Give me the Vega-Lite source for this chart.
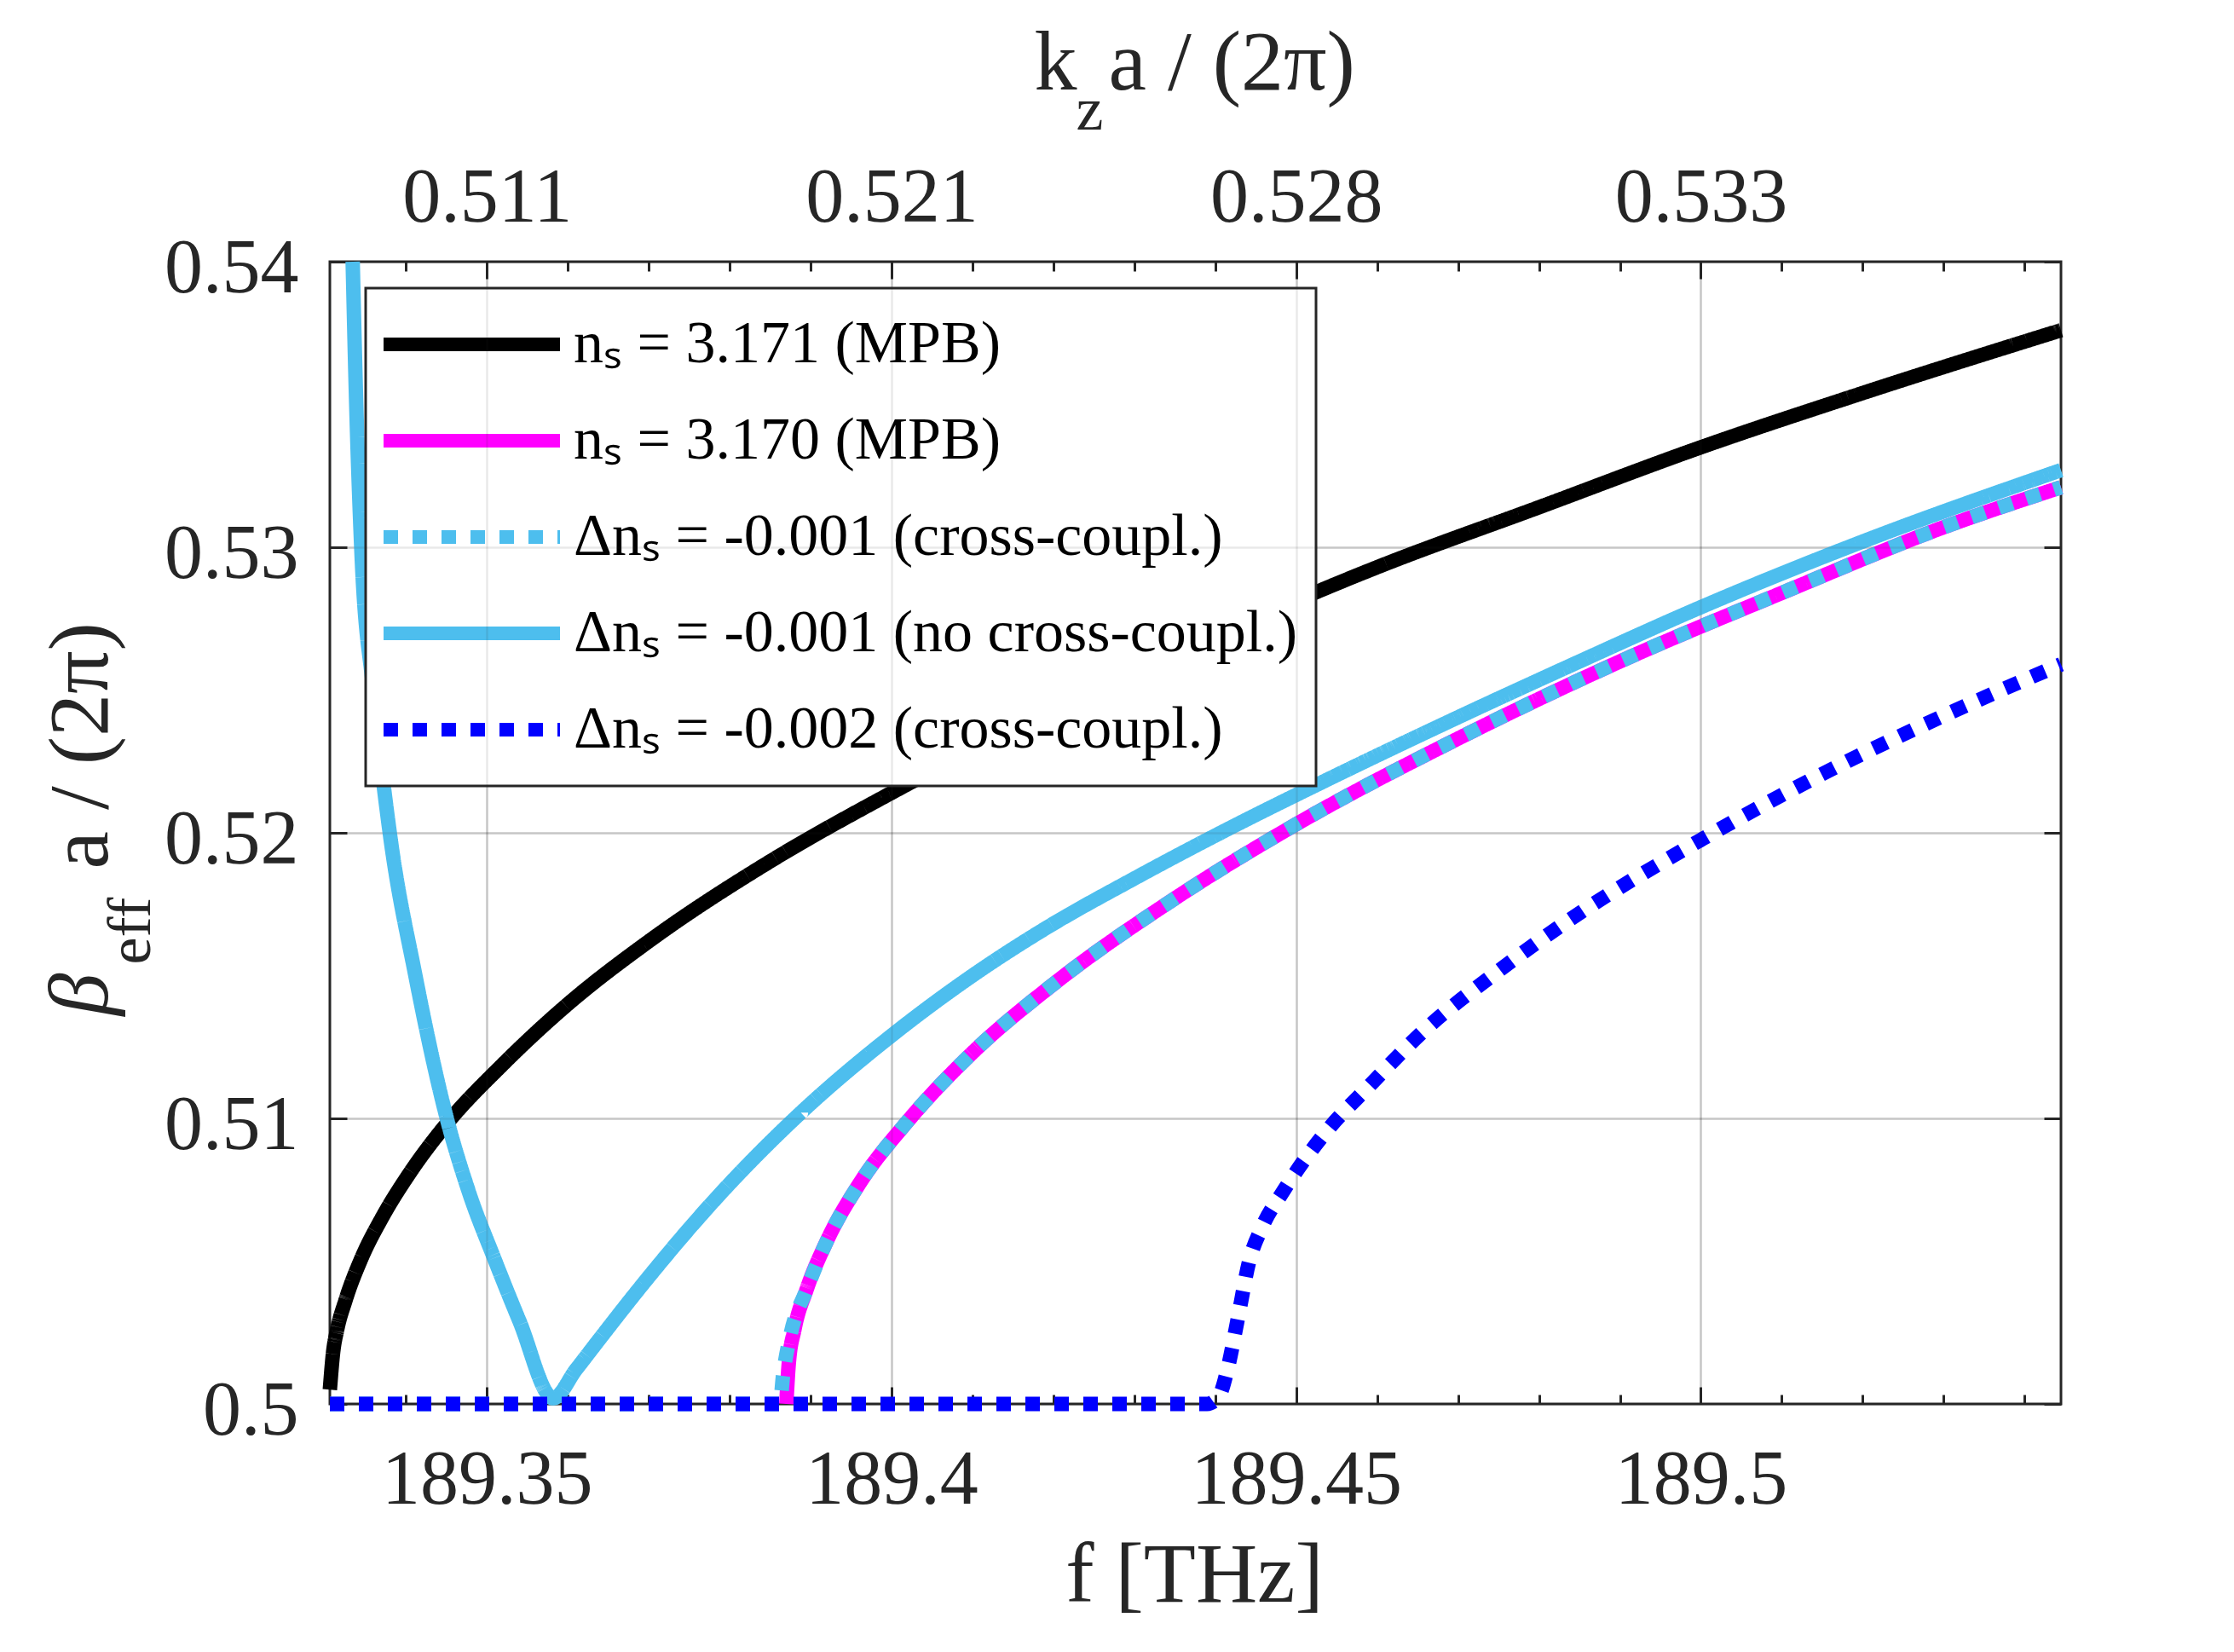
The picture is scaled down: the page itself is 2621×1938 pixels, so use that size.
{
  "$schema": "https://vega.github.io/schema/vega-lite/v6.json",
  "width": 2031,
  "height": 1340,
  "autosize": {"type": "none"},
  "padding": {"left": 387, "top": 307, "right": 203, "bottom": 291},
  "background": "white",
  "data": {
    "values": [
      {"series": "nₛ = 3.171 (MPB)", "freq": 189.3306, "beta": 0.5005},
      {"series": "nₛ = 3.171 (MPB)", "freq": 189.3310, "beta": 0.5018},
      {"series": "nₛ = 3.171 (MPB)", "freq": 189.3315, "beta": 0.5026},
      {"series": "nₛ = 3.171 (MPB)", "freq": 189.3325, "beta": 0.5036},
      {"series": "nₛ = 3.171 (MPB)", "freq": 189.3345, "beta": 0.5051},
      {"series": "nₛ = 3.171 (MPB)", "freq": 189.3370, "beta": 0.5065},
      {"series": "nₛ = 3.171 (MPB)", "freq": 189.3405, "beta": 0.5081},
      {"series": "nₛ = 3.171 (MPB)", "freq": 189.3450, "beta": 0.5098},
      {"series": "nₛ = 3.171 (MPB)", "freq": 189.3520, "beta": 0.5119},
      {"series": "nₛ = 3.171 (MPB)", "freq": 189.3600, "beta": 0.5140},
      {"series": "nₛ = 3.171 (MPB)", "freq": 189.3700, "beta": 0.5162},
      {"series": "nₛ = 3.171 (MPB)", "freq": 189.3850, "beta": 0.5190},
      {"series": "nₛ = 3.171 (MPB)", "freq": 189.4000, "beta": 0.5214},
      {"series": "nₛ = 3.171 (MPB)", "freq": 189.4200, "beta": 0.5243},
      {"series": "nₛ = 3.171 (MPB)", "freq": 189.4400, "beta": 0.5269},
      {"series": "nₛ = 3.171 (MPB)", "freq": 189.4600, "beta": 0.5293},
      {"series": "nₛ = 3.171 (MPB)", "freq": 189.4800, "beta": 0.5314},
      {"series": "nₛ = 3.171 (MPB)", "freq": 189.5000, "beta": 0.5335},
      {"series": "nₛ = 3.171 (MPB)", "freq": 189.5200, "beta": 0.5354},
      {"series": "nₛ = 3.171 (MPB)", "freq": 189.5445, "beta": 0.5376},

      {"series": "nₛ = 3.170 (MPB)", "freq": 189.3870, "beta": 0.5000},
      {"series": "nₛ = 3.170 (MPB)", "freq": 189.3873, "beta": 0.5014},
      {"series": "nₛ = 3.170 (MPB)", "freq": 189.3880, "beta": 0.5026},
      {"series": "nₛ = 3.170 (MPB)", "freq": 189.3895, "beta": 0.5040},
      {"series": "nₛ = 3.170 (MPB)", "freq": 189.3920, "beta": 0.5057},
      {"series": "nₛ = 3.170 (MPB)", "freq": 189.3960, "beta": 0.5077},
      {"series": "nₛ = 3.170 (MPB)", "freq": 189.4020, "beta": 0.5099},
      {"series": "nₛ = 3.170 (MPB)", "freq": 189.4100, "beta": 0.5123},
      {"series": "nₛ = 3.170 (MPB)", "freq": 189.4200, "beta": 0.5147},
      {"series": "nₛ = 3.170 (MPB)", "freq": 189.4350, "beta": 0.5177},
      {"series": "nₛ = 3.170 (MPB)", "freq": 189.4500, "beta": 0.5203},
      {"series": "nₛ = 3.170 (MPB)", "freq": 189.4700, "beta": 0.5233},
      {"series": "nₛ = 3.170 (MPB)", "freq": 189.4900, "beta": 0.5260},
      {"series": "nₛ = 3.170 (MPB)", "freq": 189.5100, "beta": 0.5284},
      {"series": "nₛ = 3.170 (MPB)", "freq": 189.5300, "beta": 0.5307},
      {"series": "nₛ = 3.170 (MPB)", "freq": 189.5445, "beta": 0.5321},

      {"series": "Δnₛ = -0.001 (cross-coupl.)", "freq": 189.3306, "beta": 0.5000},
      {"series": "Δnₛ = -0.001 (cross-coupl.)", "freq": 189.3862, "beta": 0.5000},
      {"series": "Δnₛ = -0.001 (cross-coupl.)", "freq": 189.3866, "beta": 0.5010},
      {"series": "Δnₛ = -0.001 (cross-coupl.)", "freq": 189.3875, "beta": 0.5024},
      {"series": "Δnₛ = -0.001 (cross-coupl.)", "freq": 189.3895, "beta": 0.5040},
      {"series": "Δnₛ = -0.001 (cross-coupl.)", "freq": 189.3920, "beta": 0.5057},
      {"series": "Δnₛ = -0.001 (cross-coupl.)", "freq": 189.3960, "beta": 0.5077},
      {"series": "Δnₛ = -0.001 (cross-coupl.)", "freq": 189.4020, "beta": 0.5099},
      {"series": "Δnₛ = -0.001 (cross-coupl.)", "freq": 189.4100, "beta": 0.5123},
      {"series": "Δnₛ = -0.001 (cross-coupl.)", "freq": 189.4200, "beta": 0.5147},
      {"series": "Δnₛ = -0.001 (cross-coupl.)", "freq": 189.4350, "beta": 0.5177},
      {"series": "Δnₛ = -0.001 (cross-coupl.)", "freq": 189.4500, "beta": 0.5203},
      {"series": "Δnₛ = -0.001 (cross-coupl.)", "freq": 189.4700, "beta": 0.5233},
      {"series": "Δnₛ = -0.001 (cross-coupl.)", "freq": 189.4900, "beta": 0.5260},
      {"series": "Δnₛ = -0.001 (cross-coupl.)", "freq": 189.5100, "beta": 0.5284},
      {"series": "Δnₛ = -0.001 (cross-coupl.)", "freq": 189.5300, "beta": 0.5307},
      {"series": "Δnₛ = -0.001 (cross-coupl.)", "freq": 189.5445, "beta": 0.5321},

      {"series": "Δnₛ = -0.001 (no cross-coupl.)", "freq": 189.33342, "beta": 0.5400},
      {"series": "Δnₛ = -0.001 (no cross-coupl.)", "freq": 189.33386, "beta": 0.5350},
      {"series": "Δnₛ = -0.001 (no cross-coupl.)", "freq": 189.33448, "beta": 0.5300},
      {"series": "Δnₛ = -0.001 (no cross-coupl.)", "freq": 189.33597, "beta": 0.5250},
      {"series": "Δnₛ = -0.001 (no cross-coupl.)", "freq": 189.33800, "beta": 0.5200},
      {"series": "Δnₛ = -0.001 (no cross-coupl.)", "freq": 189.34117, "beta": 0.5150},
      {"series": "Δnₛ = -0.001 (no cross-coupl.)", "freq": 189.34505, "beta": 0.5100},
      {"series": "Δnₛ = -0.001 (no cross-coupl.)", "freq": 189.34769, "beta": 0.5075},
      {"series": "Δnₛ = -0.001 (no cross-coupl.)", "freq": 189.35104, "beta": 0.5050},
      {"series": "Δnₛ = -0.001 (no cross-coupl.)", "freq": 189.35403, "beta": 0.5029},
      {"series": "Δnₛ = -0.001 (no cross-coupl.)", "freq": 189.35820, "beta": 0.5002},
      {"series": "Δnₛ = -0.001 (no cross-coupl.)", "freq": 189.3610, "beta": 0.5012},
      {"series": "Δnₛ = -0.001 (no cross-coupl.)", "freq": 189.3640, "beta": 0.5023},
      {"series": "Δnₛ = -0.001 (no cross-coupl.)", "freq": 189.3690, "beta": 0.5041},
      {"series": "Δnₛ = -0.001 (no cross-coupl.)", "freq": 189.3780, "beta": 0.5071},
      {"series": "Δnₛ = -0.001 (no cross-coupl.)", "freq": 189.3888, "beta": 0.5102},
      {"series": "Δnₛ = -0.001 (no cross-coupl.)", "freq": 189.4000, "beta": 0.5129},
      {"series": "Δnₛ = -0.001 (no cross-coupl.)", "freq": 189.4100, "beta": 0.5150},
      {"series": "Δnₛ = -0.001 (no cross-coupl.)", "freq": 189.4193, "beta": 0.5167},
      {"series": "Δnₛ = -0.001 (no cross-coupl.)", "freq": 189.4300, "beta": 0.5184},
      {"series": "Δnₛ = -0.001 (no cross-coupl.)", "freq": 189.4410, "beta": 0.52005},
      {"series": "Δnₛ = -0.001 (no cross-coupl.)", "freq": 189.4534, "beta": 0.5218},
      {"series": "Δnₛ = -0.001 (no cross-coupl.)", "freq": 189.4689, "beta": 0.5239},
      {"series": "Δnₛ = -0.001 (no cross-coupl.)", "freq": 189.4850, "beta": 0.5260},
      {"series": "Δnₛ = -0.001 (no cross-coupl.)", "freq": 189.5000, "beta": 0.5279},
      {"series": "Δnₛ = -0.001 (no cross-coupl.)", "freq": 189.5200, "beta": 0.5302},
      {"series": "Δnₛ = -0.001 (no cross-coupl.)", "freq": 189.5445, "beta": 0.5327},

      {"series": "Δnₛ = -0.002 (cross-coupl.)", "freq": 189.3306, "beta": 0.5000},
      {"series": "Δnₛ = -0.002 (cross-coupl.)", "freq": 189.4390, "beta": 0.5000},
      {"series": "Δnₛ = -0.002 (cross-coupl.)", "freq": 189.4405, "beta": 0.5003},
      {"series": "Δnₛ = -0.002 (cross-coupl.)", "freq": 189.4415, "beta": 0.5012},
      {"series": "Δnₛ = -0.002 (cross-coupl.)", "freq": 189.4428, "beta": 0.5030},
      {"series": "Δnₛ = -0.002 (cross-coupl.)", "freq": 189.4442, "beta": 0.5050},
      {"series": "Δnₛ = -0.002 (cross-coupl.)", "freq": 189.4458, "beta": 0.5062},
      {"series": "Δnₛ = -0.002 (cross-coupl.)", "freq": 189.4483, "beta": 0.5074},
      {"series": "Δnₛ = -0.002 (cross-coupl.)", "freq": 189.4536, "beta": 0.5095},
      {"series": "Δnₛ = -0.002 (cross-coupl.)", "freq": 189.4589, "beta": 0.5111},
      {"series": "Δnₛ = -0.002 (cross-coupl.)", "freq": 189.4659, "beta": 0.5131},
      {"series": "Δnₛ = -0.002 (cross-coupl.)", "freq": 189.4747, "beta": 0.5151},
      {"series": "Δnₛ = -0.002 (cross-coupl.)", "freq": 189.4835, "beta": 0.5169},
      {"series": "Δnₛ = -0.002 (cross-coupl.)", "freq": 189.5003, "beta": 0.5198},
      {"series": "Δnₛ = -0.002 (cross-coupl.)", "freq": 189.5188, "beta": 0.5226},
      {"series": "Δnₛ = -0.002 (cross-coupl.)", "freq": 189.5300, "beta": 0.5241},
      {"series": "Δnₛ = -0.002 (cross-coupl.)", "freq": 189.5445, "beta": 0.5259}
    ]
  },
  "resolve": {"axis": {"x": "independent", "y": "independent"}},
  "layer": [
    {
      "mark": {"type": "line", "strokeWidth": 17, "interpolate": "monotone"},
      "encoding": {
        "x": {
          "field": "freq",
          "type": "quantitative",
          "scale": {"domain": [189.3306, 189.5445], "nice": false, "zero": false},
          "axis": {
            "orient": "bottom",
            "values": [189.34, 189.35, 189.36, 189.37, 189.38, 189.39, 189.4, 189.41, 189.42, 189.43, 189.44, 189.45, 189.46, 189.47, 189.48, 189.49, 189.5, 189.51, 189.52, 189.53, 189.54],
            "tickSize": {"condition": {"test": "abs(datum.value*20 - round(datum.value*20)) < 0.001", "value": -20}, "value": -11},
            "labelExpr": "abs(datum.value*20 - round(datum.value*20)) < 0.001 ? format(datum.value, '.2~f') : ''",
            "labelPadding": 65,
            "grid": true,
            "gridColor": "#262626",
            "gridWidth": 2.5,
            "gridOpacity": {"condition": {"test": "abs(datum.value*20 - round(datum.value*20)) < 0.001", "value": 0.18}, "value": 0},
            "title": "f [THz]",
            "titleX": 1014,
            "titleY": 231,
            "titleAlign": "center",
            "titleBaseline": "alphabetic"
          }
        },
        "y": {
          "field": "beta",
          "type": "quantitative",
          "scale": {"domain": [0.5, 0.54], "nice": false, "zero": false},
          "axis": {
            "orient": "left",
            "values": [0.5, 0.51, 0.52, 0.53, 0.54],
            "tickSize": -20,
            "format": ".2~f",
            "labelPadding": 57,
            "labelOffset": 8,
            "grid": true,
            "gridColor": "#262626",
            "gridWidth": 2.5,
            "gridOpacity": 0.18,
            "title": "a / (2π)",
            "titleX": -262,
            "titleY": 712,
            "titleAngle": 270,
            "titleAlign": "left",
            "titleBaseline": "alphabetic"
          }
        },
        "color": {
          "field": "series",
          "type": "nominal",
          "scale": {
            "domain": ["nₛ = 3.171 (MPB)", "nₛ = 3.170 (MPB)", "Δnₛ = -0.001 (cross-coupl.)", "Δnₛ = -0.001 (no cross-coupl.)", "Δnₛ = -0.002 (cross-coupl.)"],
            "range": ["#000000", "#ff00ff", "#4dbeee", "#4dbeee", "#0000ff"]
          },
          "legend": {"title": null, "orient": "none", "legendX": 42, "legendY": 31, "zindex": 1}
        },
        "strokeDash": {
          "field": "series",
          "type": "nominal",
          "scale": {
            "domain": ["nₛ = 3.171 (MPB)", "nₛ = 3.170 (MPB)", "Δnₛ = -0.001 (cross-coupl.)", "Δnₛ = -0.001 (no cross-coupl.)", "Δnₛ = -0.002 (cross-coupl.)"],
            "range": [[1, 0], [1, 0], [17, 17], [1, 0], [17, 17]]
          },
          "legend": {"title": null, "orient": "none", "legendX": 42, "legendY": 31, "zindex": 1}
        }
      }
    },
    {
      "mark": {"type": "point", "opacity": 0},
      "encoding": {
        "x": {
          "field": "freq",
          "type": "quantitative",
          "axis": {
            "orient": "top",
            "values": [189.34, 189.35, 189.36, 189.37, 189.38, 189.39, 189.4, 189.41, 189.42, 189.43, 189.44, 189.45, 189.46, 189.47, 189.48, 189.49, 189.5, 189.51, 189.52, 189.53, 189.54],
            "tickSize": {"condition": {"test": "abs(datum.value*20 - round(datum.value*20)) < 0.001", "value": -20}, "value": -11},
            "labelExpr": "abs(datum.value*20 - round(datum.value*20)) > 0.001 ? '' : datum.value < 189.375 ? '0.511' : datum.value < 189.425 ? '0.521' : datum.value < 189.475 ? '0.528' : '0.533'",
            "labelPadding": 49,
            "title": "a / (2π)",
            "titleX": 913,
            "titleY": -203,
            "titleAlign": "left",
            "titleBaseline": "alphabetic"
          }
        },
        "y": {
          "field": "beta",
          "type": "quantitative",
          "axis": {"orient": "right", "values": [0.5, 0.51, 0.52, 0.53, 0.54], "tickSize": -20, "labels": false, "title": null}
        }
      }
    },
    {
      "mark": {"type": "point", "opacity": 0},
      "encoding": {
        "x": {
          "field": "freq",
          "type": "quantitative",
          "axis": {"orient": "top", "ticks": false, "labels": false, "title": "k", "titleX": 826, "titleY": -203, "titleAlign": "left", "titleBaseline": "alphabetic"}
        },
        "y": {
          "field": "beta",
          "type": "quantitative",
          "axis": {"orient": "left", "ticks": false, "labels": false, "title": "β", "titleFontStyle": "italic", "titleX": -262, "titleY": 884, "titleAngle": 270, "titleAlign": "left", "titleBaseline": "alphabetic"}
        }
      }
    },
    {
      "mark": {"type": "point", "opacity": 0},
      "encoding": {
        "x": {
          "field": "freq",
          "type": "quantitative",
          "axis": {"orient": "top", "ticks": false, "labels": false, "title": "z", "titleFontSize": 72, "titleX": 875, "titleY": -156, "titleAlign": "left", "titleBaseline": "alphabetic"}
        },
        "y": {
          "field": "beta",
          "type": "quantitative",
          "axis": {"orient": "left", "ticks": false, "labels": false, "title": "eff", "titleFontSize": 72, "titleX": -212, "titleY": 824, "titleAngle": 270, "titleAlign": "left", "titleBaseline": "alphabetic"}
        }
      }
    },
    {
      "mark": {"type": "point", "opacity": 0},
      "encoding": {
        "x": {
          "field": "freq",
          "type": "quantitative",
          "axis": {"orient": "bottom", "values": [189.35, 189.4, 189.45, 189.5], "ticks": false, "labels": false, "title": null, "grid": true, "gridColor": "#262626", "gridWidth": 2.5, "gridOpacity": 0.1, "zindex": 2}
        },
        "y": {
          "field": "beta",
          "type": "quantitative",
          "axis": {"orient": "left", "values": [0.51, 0.52, 0.53], "ticks": false, "labels": false, "title": null, "grid": true, "gridColor": "#262626", "gridWidth": 2.5, "gridOpacity": 0.1, "zindex": 2}
        }
      }
    }
  ],
  "config": {
    "font": "Liberation Serif",
    "view": {"stroke": "#262626", "strokeWidth": 3},
    "axis": {
      "domain": false,
      "grid": false,
      "labelFont": "Liberation Serif",
      "labelFontSize": 90,
      "labelColor": "#262626",
      "labelLimit": 1000,
      "labelFlush": false,
      "labelOverlap": false,
      "labelBound": false,
      "titleFont": "Liberation Serif",
      "titleFontSize": 100,
      "titleFontWeight": "normal",
      "titleColor": "#262626",
      "titleLimit": 2000,
      "tickColor": "#262626",
      "tickWidth": 3
    },
    "legend": {
      "symbolType": "stroke",
      "symbolSize": 42849,
      "symbolStrokeWidth": 16,
      "symbolOpacity": 1,
      "symbolOffset": -8,
      "clipHeight": 90,
      "rowPadding": 23,
      "labelOffset": 8,
      "labelFont": "Liberation Serif",
      "labelFontSize": 70,
      "labelColor": "#000000",
      "labelLimit": 3000,
      "labelBaseline": "middle",
      "padding": 21,
      "strokeColor": "#262626",
      "strokeWidth": 3,
      "fillColor": "#ffffff"
    }
  }
}
